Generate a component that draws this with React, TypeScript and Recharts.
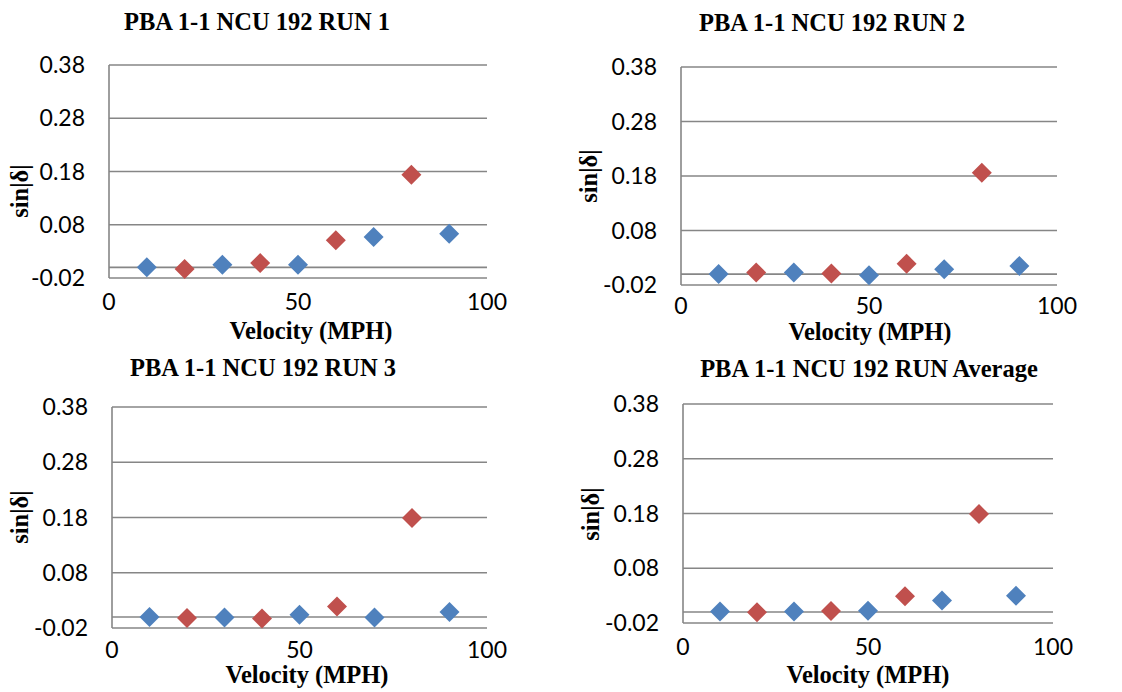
import React from 'react';
import { ScatterChart, Scatter, XAxis, YAxis, CartesianGrid } from 'recharts';

// ---- data ----
const blueVelocity = [10, 30, 50, 70, 90];
const redVelocity = [20, 40, 60, 80];

const run1Blue = [0.0, 0.005, 0.005, 0.057, 0.063];
const run1Red = [-0.003, 0.008, 0.051, 0.174];

const run2Blue = [0.0, 0.003, -0.002, 0.009, 0.015];
const run2Red = [0.003, 0.001, 0.019, 0.186];

const run3Blue = [0.0, -0.001, 0.004, -0.001, 0.009];
const run3Red = [-0.002, -0.003, 0.019, 0.179];

const avgBlue = [0.001, 0.001, 0.0025, 0.021, 0.03];
const avgRed = [-0.0005, 0.002, 0.029, 0.179];

const yTicks = [-0.02, 0.0, 0.08, 0.18, 0.28, 0.38];
const xTicks = [0, 50, 100];

const titles = [
  'PBA 1-1 NCU 192 RUN 1',
  'PBA 1-1 NCU 192 RUN 2',
  'PBA 1-1 NCU 192 RUN 3',
  'PBA 1-1 NCU 192 RUN Average',
];
const xTitle = 'Velocity (MPH)';
const yTitle = 'sin|δ|';

// ---- styles / layout ----
const BLUE = '#4F81BD';
const RED = '#C0504D';
const GRID = '#868686';
const SERIF = '"Liberation Serif", "Times New Roman", serif';
const SANS = 'Lato, "Open Sans", sans-serif';
const Y_AXIS_W = 60;
const X_AXIS_H = 40;
const TICK_FONT = 23;

type Panel = {
  title: string;
  blue: number[];
  red: number[];
  left: number;
  top: number;
  width: number;
  height: number;
  plot: { top: number; right: number; bottom: number; left: number };
  xTickGap: number;
  titlePos: [number, number];
  xTitlePos: [number, number];
  yTitlePos: [number, number];
};

const panels: Panel[] = [
  {
    title: titles[0], blue: run1Blue, red: run1Red,
    left: 0, top: 0, width: 560, height: 346,
    plot: { top: 65, right: 73, bottom: 68, left: 109 },
    xTickGap: 16,
    titlePos: [257, 22], xTitlePos: [311, 331], yTitlePos: [20, 191],
  },
  {
    title: titles[1], blue: run2Blue, red: run2Red,
    left: 560, top: 0, width: 562, height: 346,
    plot: { top: 67, right: 65, bottom: 61, left: 121 },
    xTickGap: 13,
    titlePos: [832, 23], xTitlePos: [870, 332], yTitlePos: [589, 176],
  },
  {
    title: titles[2], blue: run3Blue, red: run3Red,
    left: 0, top: 346, width: 560, height: 346,
    plot: { top: 61, right: 73, bottom: 64, left: 112 },
    xTickGap: 14,
    titlePos: [263, 368], xTitlePos: [307, 675], yTitlePos: [20, 517],
  },
  {
    title: titles[3], blue: avgBlue, red: avgRed,
    left: 560, top: 346, width: 562, height: 346,
    plot: { top: 58, right: 69, bottom: 69, left: 123 },
    xTickGap: 16,
    titlePos: [869, 369], xTitlePos: [868, 675], yTitlePos: [591, 514],
  },
];

const Diamond = (props: any) => {
  const { cx, cy, fill } = props;
  if (cx == null || cy == null) return null;
  const r = 10;
  return (
    <path
      d={`M${cx},${cy - r}L${cx + r},${cy}L${cx},${cy + r}L${cx - r},${cy}Z`}
      fill={fill}
    />
  );
};

const textBase: React.CSSProperties = {
  position: 'absolute',
  whiteSpace: 'nowrap',
  lineHeight: 1,
  fontFamily: SERIF,
  fontWeight: 'bold',
  fontSize: 24.5,
  color: '#000',
};

const PanelChart = ({ p }: { p: Panel }) => {
  const blueData = blueVelocity.map((x, i) => ({ x, y: p.blue[i] }));
  const redData = redVelocity.map((x, i) => ({ x, y: p.red[i] }));
  const margin = {
    top: p.plot.top,
    right: p.plot.right,
    bottom: p.plot.bottom - X_AXIS_H,
    left: p.plot.left - Y_AXIS_W,
  };
  return (
    <>
      <div style={{ position: 'absolute', left: p.left, top: p.top }}>
        <ScatterChart width={p.width} height={p.height} margin={margin}>
          <CartesianGrid vertical={false} stroke={GRID} strokeWidth={1.6} />
          <XAxis
            type="number"
            dataKey="x"
            domain={[0, 100]}
            ticks={xTicks}
            axisLine={false}
            tickLine={false}
            tickSize={0}
            tickMargin={p.xTickGap}
            height={X_AXIS_H}
            tick={{ fill: '#000', fontSize: TICK_FONT, fontFamily: SANS }}
            interval={0}
          />
          <YAxis
            type="number"
            dataKey="y"
            domain={[-0.02, 0.38]}
            ticks={yTicks}
            axisLine={{ stroke: GRID, strokeWidth: 1.6 }}
            tickLine={false}
            tickSize={0}
            tickMargin={24}
            width={Y_AXIS_W}
            interval={0}
            tickFormatter={(v: number) => (Math.abs(v) < 1e-9 ? '' : v.toFixed(2))}
            tick={{ fill: '#000', fontSize: TICK_FONT, fontFamily: SANS }}
          />
          <Scatter data={blueData} fill={BLUE} shape={Diamond} isAnimationActive={false} />
          <Scatter data={redData} fill={RED} shape={Diamond} isAnimationActive={false} />
        </ScatterChart>
      </div>
      <div
        style={{
          ...textBase,
          left: p.titlePos[0],
          top: p.titlePos[1],
          transform: 'translate(-50%, -50%)',
        }}
      >
        {p.title}
      </div>
      <div
        style={{
          ...textBase,
          lineHeight: 0.7,
          left: p.xTitlePos[0],
          top: p.xTitlePos[1],
          transform: 'translate(-50%, -50%)',
        }}
      >
        {xTitle}
      </div>
      <div
        style={{
          ...textBase,
          left: p.yTitlePos[0],
          top: p.yTitlePos[1],
          transform: 'translate(-50%, -50%) rotate(-90deg)',
        }}
      >
        {yTitle}
      </div>
    </>
  );
};

export default function App() {
  return (
    <div
      style={{
        position: 'absolute',
        left: 0,
        top: 0,
        width: 1122,
        height: 692,
        background: '#fff',
        overflow: 'hidden',
      }}
    >
      {panels.map((p, i) => (
        <PanelChart key={i} p={p} />
      ))}
    </div>
  );
}
